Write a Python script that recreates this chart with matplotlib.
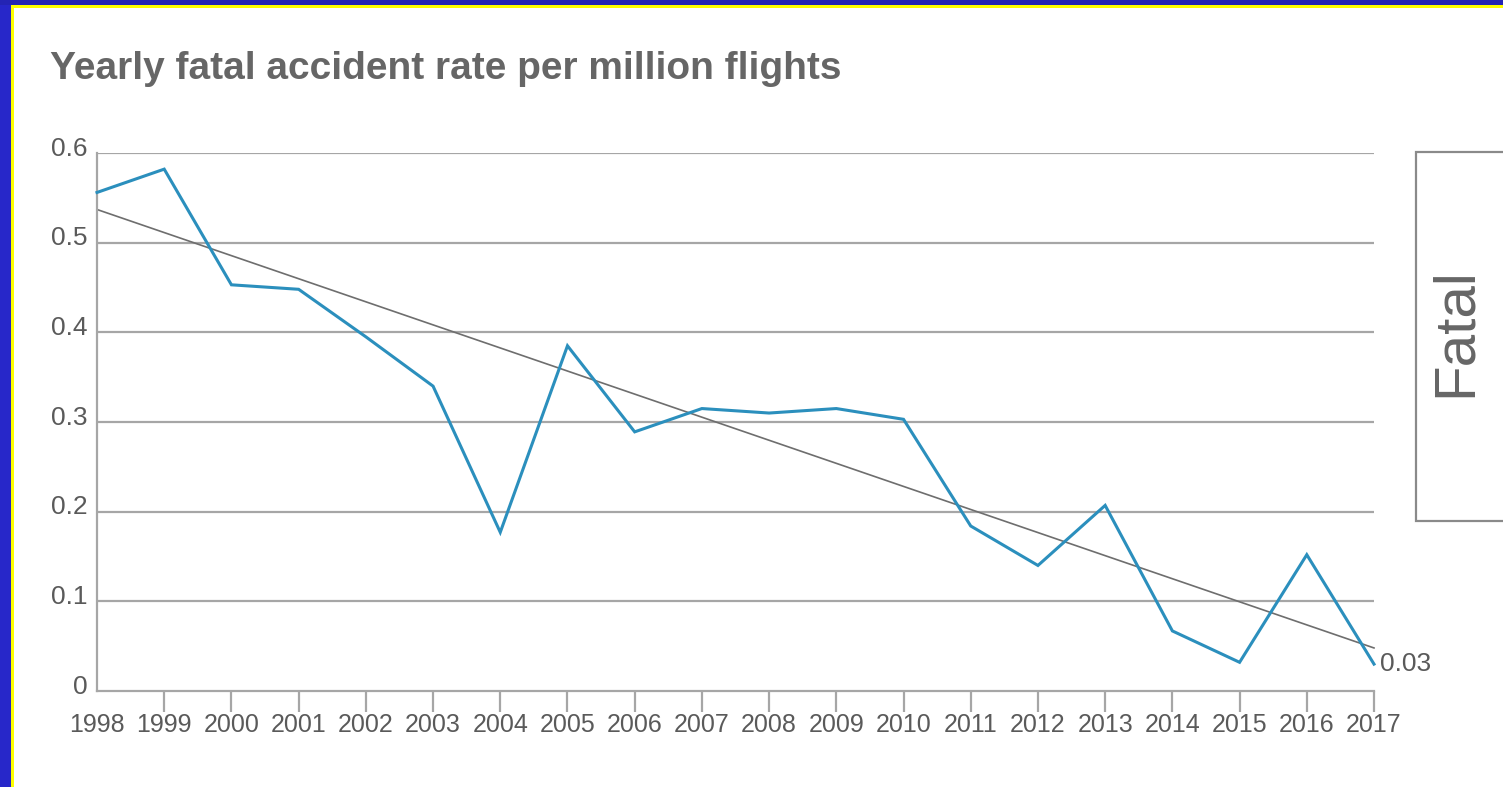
import matplotlib
matplotlib.use("Agg")
import matplotlib.pyplot as plt
from matplotlib.patches import Rectangle

plt.rcParams['font.family'] = ['Liberation Sans', 'DejaVu Sans']

years = list(range(1998, 2018))
rate = [0.556, 0.582, 0.453, 0.448, 0.395, 0.340, 0.177, 0.385, 0.289, 0.315,
        0.310, 0.315, 0.303, 0.184, 0.140, 0.207, 0.067, 0.032, 0.152, 0.030]
trend_years = [1998, 2017]
trend_vals = [0.537, 0.048]
yticks = [0, 0.1, 0.2, 0.3, 0.4, 0.5, 0.6]
ytick_labels = ['0', '0.1', '0.2', '0.3', '0.4', '0.5', '0.6']
title = 'Yearly fatal accident rate per million flights'
last_label = '0.03'
side_label = 'Fatal'

W, H = 1503, 787
fig = plt.figure(figsize=(W / 100, H / 100), dpi=100)
fig.patch.set_facecolor('white')

def px(x0, y0, w, h):
    return (x0 / W, 1 - (y0 + h) / H, w / W, h / H)

# border decorations
for (x0, y0, w, h, c) in [(0, 0, 11, H, '#2727c9'), (0, 0, W, 5, '#2424b4'),
                          (11, 5, 3, H, '#ffff00'), (11, 5, W, 3, '#ffff00')]:
    l, b, ww, hh = px(x0, y0, w, h)
    fig.patches.append(Rectangle((l, b), ww, hh, transform=fig.transFigure,
                                 facecolor=c, edgecolor='none', zorder=0))

ax_l, ax_r, ax_t, ax_b = 97, 1374, 153, 691
ax = fig.add_axes([ax_l / W, 1 - ax_b / H, (ax_r - ax_l) / W, (ax_b - ax_t) / H])
ax.set_xlim(1998, 2017)
ax.set_ylim(0, 0.6)
ax.set_facecolor('none')

grid_c = '#a6a6a6'
text_c = '#5a5a5a'
for v in yticks[1:]:
    ax.axhline(v, color=grid_c, lw=1.6, zorder=1)

for s in ['top', 'right']:
    ax.spines[s].set_visible(False)
for s in ['left', 'bottom']:
    ax.spines[s].set_color(grid_c)
    ax.spines[s].set_linewidth(1.6)

ax.set_xticks(years[1:])
ax.set_xticklabels([])
ax.tick_params(axis='x', length=15, width=1.6, color=grid_c, direction='out')
ax.set_yticks([])
for y in years:
    ax.annotate(str(y), (y, 0), xytext=(0, -16), textcoords='offset points',
                ha='center', va='top', fontsize=18, color=text_c)
for v, lab in zip(yticks, ytick_labels):
    ax.annotate(lab, (1998, v), xytext=(-7, -2), textcoords='offset points',
                ha='right', va='baseline', fontsize=19, color=text_c)

ax.plot(trend_years, trend_vals, color='#6e6e6e', lw=1.2, zorder=2, clip_on=False)
ax.plot(years, rate, color='#2b8fbd', lw=2.2, zorder=3, clip_on=False,
        solid_joinstyle='miter')
ax.annotate(last_label, (years[-1], rate[-1]), xytext=(4, 0), textcoords='offset points',
            ha='left', va='center', fontsize=19, color=text_c)

fig.text(50 / W, 1 - 69 / H, title, ha='left', va='center', fontsize=28,
         fontweight='bold', color='#666666')

# side box
l, b, ww, hh = px(1416, 152, 120, 369)
fig.patches.append(Rectangle((l, b), ww, hh, transform=fig.transFigure,
                             facecolor='white', edgecolor='#8a8a8a', lw=1.6, zorder=1))
fig.text(1456 / W, 1 - 332 / H, side_label, rotation=90, ha='center', va='center',
         fontsize=42, color='#666666')

fig.savefig('out.png', dpi=100)
